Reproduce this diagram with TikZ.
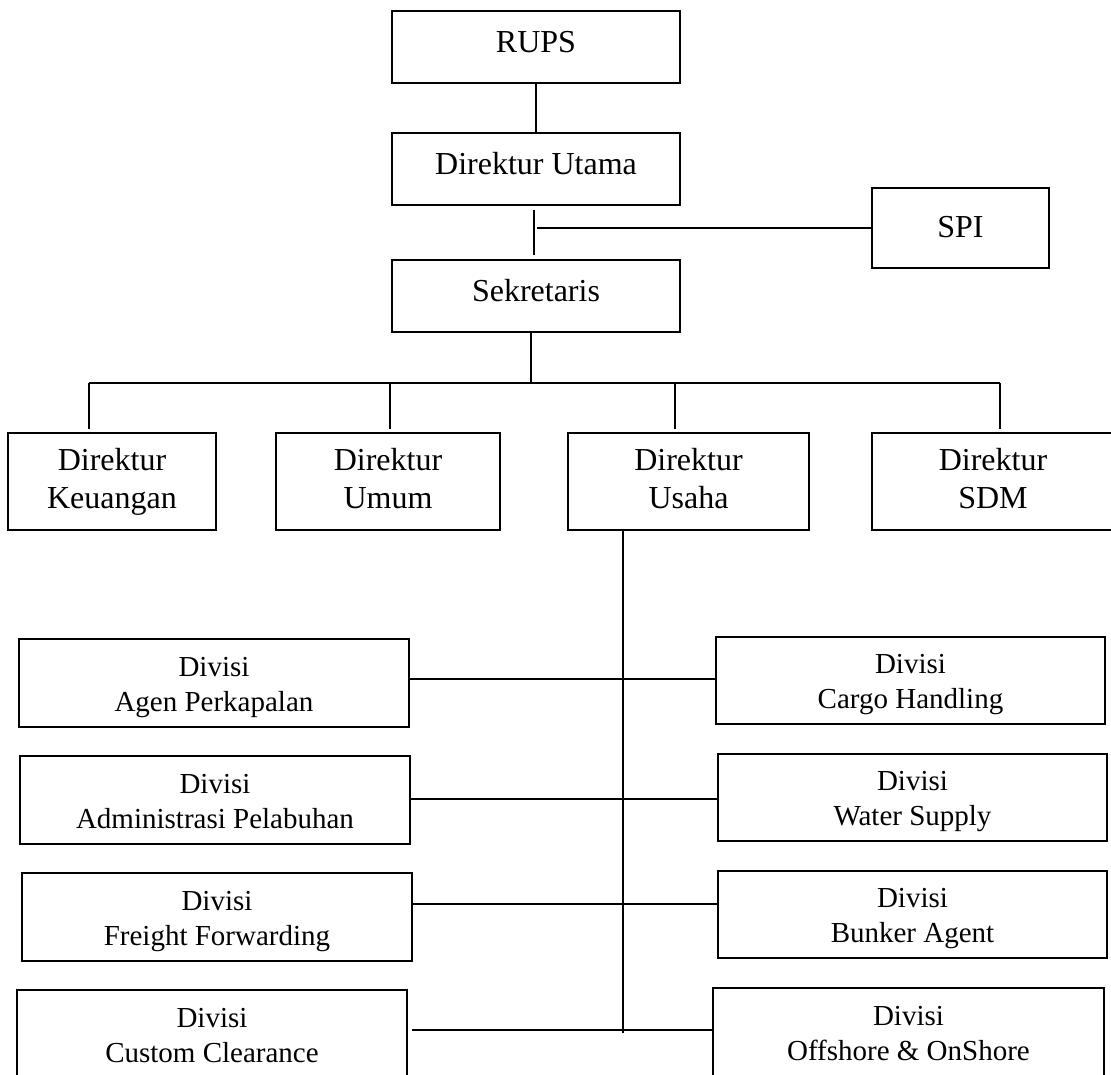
\documentclass[tikz,border=0pt]{standalone}
\usepackage{fontspec}
\setmainfont{Liberation Serif}
% two-line box contents with fixed line boxes
\newcommand\dirlines[2]{\rule[-7pt]{0pt}{30pt}\smash{#1}\\\rule[-7pt]{0pt}{30pt}\smash{#2}}
\newcommand\divlines[2]{\rule[-4pt]{0pt}{29pt}\smash{#1}\\\rule[-4pt]{0pt}{29pt}\smash{#2}}
\begin{document}
\begin{tikzpicture}[x=1pt,y=-1pt,
  box/.style={draw,line width=1.7pt,inner sep=0pt,anchor=center},
  link/.style={line width=1.7pt},
  topbox/.style={box,font=\fontsize{32}{38}\selectfont,text height=25pt,text depth=15pt,minimum width=288pt,minimum height=72pt},
  dirbox/.style={box,font=\fontsize{32}{38}\selectfont,align=center,minimum height=97pt},
  divbox/.style={box,font=\fontsize{29}{35}\selectfont,align=center,minimum width=390pt,minimum height=88pt}]
\useasboundingbox (0,0) rectangle (1111,1074);
\clip (0,0) rectangle (1111,1074);
% top
\node[topbox] (rups) at (536,47) {RUPS};
\node[topbox] (dirut) at (536,169) {Direktur Utama};
\node[topbox] (sekr) at (536,296) {Sekretaris};
\node[box,font=\fontsize{32}{38}\selectfont,text height=19pt,text depth=0pt,minimum width=177pt,minimum height=80pt] (spi) at (960.5,228) {SPI};
% directors
\node[dirbox,minimum width=208pt] (keu) at (112,481.5) {\dirlines{Direktur}{Keuangan}};
\node[dirbox,minimum width=224pt] (umum) at (388,481.5) {\dirlines{Direktur}{Umum}};
\node[dirbox,minimum width=241pt] (usaha) at (688.5,481.5) {\dirlines{Direktur}{Usaha}};
\node[dirbox,minimum width=242pt] (sdm) at (993,481.5) {\dirlines{Direktur}{SDM}};
% divisions left
\node[divbox] (agen) at (214,683) {\divlines{Divisi}{Agen Perkapalan}};
\node[divbox] (admin) at (215,800) {\divlines{Divisi}{Administrasi Pelabuhan}};
\node[divbox] (freight) at (217,917) {\divlines{Divisi}{Freight Forwarding}};
\node[divbox] (custom) at (212,1034) {\divlines{Divisi}{Custom Clearance}};
% divisions right
\node[divbox,minimum width=389pt,minimum height=87pt] (cargo) at (910.5,680.5) {\divlines{Divisi}{Cargo Handling}};
\node[divbox,minimum width=389pt,minimum height=87pt] (water) at (912.5,797.5) {\divlines{Divisi}{Water Supply}};
\node[divbox,minimum width=389pt,minimum height=87pt] (bunker) at (912.5,914.5) {\divlines{Divisi}{Bunker Agent}};
\node[divbox,minimum width=391pt] (offshore) at (908.5,1032) {\divlines{Divisi}{Offshore \& OnShore}};
% junction coordinates
\coordinate (spij) at (537,228);
\coordinate (bar) at (531,383);
\coordinate (bl) at (89,383);
\coordinate (b2) at (390,383);
\coordinate (b3) at (675,383);
\coordinate (br) at (1000,383);
\coordinate (ub) at (623,1033);
\coordinate (h1) at (0,679);
\coordinate (h2) at (0,799);
\coordinate (h3) at (0,904);
\coordinate (h4) at (0,1030);
% connectors
\draw[link] (rups) -- (dirut);
\draw[link] ([xshift=-2pt,yshift=-4pt]dirut.south) -- ([xshift=-2pt,yshift=4pt]sekr.north);
\draw[link] (spij) -- (spi.west);
\draw[link] ([xshift=-5pt]sekr.south) -- (bar);
\draw[link] (bl) -- (br);
\draw[link] (bl) -- ([yshift=3pt]bl |- keu.north);
\draw[link] (b2) -- ([yshift=3pt]b2 |- umum.north);
\draw[link] (b3) -- ([yshift=3pt]b3 |- usaha.north);
\draw[link] (br) -- ([yshift=3pt]br |- sdm.north);
\draw[link] (ub |- usaha.south) -- (ub);
\draw[link] (agen.east |- h1) -- (cargo.west |- h1);
\draw[link] (admin.east |- h2) -- (water.west |- h2);
\draw[link] (freight.east |- h3) -- (bunker.west |- h3);
\draw[link] ([xshift=4pt]custom.east |- h4) -- (offshore.west |- h4);
\end{tikzpicture}
\end{document}
